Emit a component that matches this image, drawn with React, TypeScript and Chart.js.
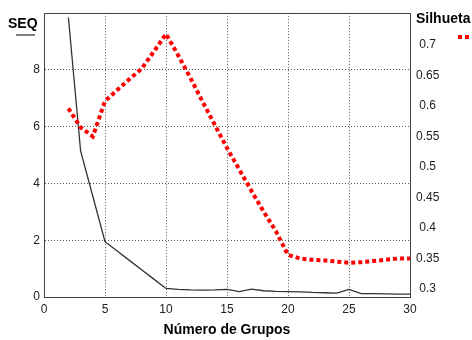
import React, { useEffect, useRef } from "react";
import { Chart, registerables } from "chart.js";

Chart.register(...registerables);

const groups = [2, 3, 4, 5, 6, 7, 8, 9, 10, 11, 12, 13, 14, 15, 16, 17, 18, 19, 20, 21, 22, 23, 24, 25, 26, 27, 28, 29, 30];
const seqValues = [9.85, 5.15, 3.55, 1.95, 1.62, 1.29, 0.96, 0.63, 0.3, 0.27, 0.25, 0.24, 0.25, 0.27, 0.19, 0.28, 0.22, 0.2, 0.19, 0.18, 0.16, 0.15, 0.14, 0.27, 0.12, 0.12, 0.11, 0.1, 0.1];
const silhouetteValues = [0.596, 0.565, 0.55, 0.608, 0.626, 0.644, 0.661, 0.689, 0.718, 0.683, 0.646, 0.607, 0.569, 0.531, 0.496, 0.461, 0.427, 0.395, 0.356, 0.35, 0.348, 0.347, 0.345, 0.343, 0.344, 0.346, 0.348, 0.35, 0.35];
const xTicks = [0, 5, 10, 15, 20, 25, 30];
const leftTicks = [0, 2, 4, 6, 8];
const rightTicks = [0.3, 0.35, 0.4, 0.45, 0.5, 0.55, 0.6, 0.65, 0.7];
const leftLabel = "SEQ";
const rightLabel = "Silhueta";
const xTitle = "Número de Grupos";

const FONT = "'Liberation Sans', Arial, sans-serif";

export default function App() {
  const ref = useRef<HTMLCanvasElement | null>(null);

  useEffect(() => {
    document.body.style.margin = "0";
    const canvas = ref.current;
    if (!canvas) return;

    const extras = {
      id: "extras",
      afterDraw(chart: any) {
        const { ctx, chartArea } = chart;
        const { left, right, top, bottom } = chartArea;
        ctx.save();
        // frame
        ctx.strokeStyle = "#444";
        ctx.lineWidth = 1;
        ctx.setLineDash([]);
        ctx.strokeRect(Math.round(left) + 0.5, Math.round(top) + 0.5, Math.round(right - left), Math.round(bottom - top));
        // left label + legend line
        ctx.fillStyle = "#000";
        ctx.font = `bold 14px ${FONT}`;
        ctx.textBaseline = "middle";
        ctx.textAlign = "left";
        ctx.fillText(leftLabel, 8, 24);
        ctx.strokeStyle = "#555";
        ctx.lineWidth = 1.5;
        ctx.beginPath();
        ctx.moveTo(16, 35);
        ctx.lineTo(35, 35);
        ctx.stroke();
        // right label + legend dots
        ctx.fillText(rightLabel, 416, 19);
        ctx.strokeStyle = "#ff0000";
        ctx.lineWidth = 4;
        ctx.setLineDash([4, 3]);
        ctx.beginPath();
        ctx.moveTo(458, 37);
        ctx.lineTo(470, 37);
        ctx.stroke();
        ctx.setLineDash([]);
        // x title
        ctx.textAlign = "center";
        ctx.font = `bold 14px ${FONT}`;
        ctx.fillText(xTitle, (left + right) / 2, 330);
        ctx.restore();
      },
    };

    const chart = new Chart(canvas, {
      type: "line",
      data: {
        datasets: [
          {
            label: rightLabel,
            data: groups.map((g, i) => ({ x: g, y: silhouetteValues[i] })),
            yAxisID: "y1",
            borderColor: "#ff0000",
            borderWidth: 4,
            borderDash: [4, 3],
            borderCapStyle: "butt",
            pointRadius: 0,
            tension: 0,
            fill: false,
          },
          {
            label: leftLabel,
            data: groups.map((g, i) => ({ x: g, y: seqValues[i] })),
            yAxisID: "y",
            borderColor: "#333",
            borderWidth: 1.3,
            pointRadius: 0,
            tension: 0,
            fill: false,
          },
        ],
      },
      options: {
        animation: false,
        responsive: false,
        maintainAspectRatio: false,
        layout: { padding: { top: 11, left: 0, right: 0, bottom: 0 } },
        plugins: { legend: { display: false }, tooltip: { enabled: false } },
        scales: {
          x: {
            type: "linear",
            min: 0,
            max: 30,
            afterBuildTicks: (s: any) => {
              s.ticks = xTicks.map((v) => ({ value: v }));
            },
            afterFit: (s: any) => {
              s.height = 43;
            },
            grid: { color: "#555", lineWidth: 1, drawTicks: false },
            border: { display: true, color: "#444", dash: [1, 2] },
            ticks: { color: "#222", font: { family: FONT, size: 12 }, padding: 5, maxRotation: 0 },
          },
          y: {
            type: "linear",
            position: "left",
            min: 0,
            max: 10,
            afterBuildTicks: (s: any) => {
              s.ticks = leftTicks.map((v) => ({ value: v }));
            },
            afterFit: (s: any) => {
              s.width = 44;
            },
            grid: { color: "#555", lineWidth: 1, drawTicks: false },
            border: { display: true, color: "#444", dash: [1, 2] },
            ticks: { color: "#222", font: { family: FONT, size: 12 }, padding: 4 },
          },
          y1: {
            type: "linear",
            position: "right",
            min: 0.287,
            max: 0.752,
            afterBuildTicks: (s: any) => {
              s.ticks = rightTicks.map((v) => ({ value: v }));
            },
            afterFit: (s: any) => {
              s.width = 62;
            },
            grid: { display: false, drawTicks: false },
            border: { display: true, color: "#444" },
            ticks: {
              color: "#222",
              font: { family: FONT, size: 12 },
              padding: 6,
              crossAlign: "center",
              callback: (v: any) => String(Math.round(Number(v) * 100) / 100),
            },
          },
        },
      },
      plugins: [extras],
    } as any);

    return () => chart.destroy();
  }, []);

  return (
    <div style={{ width: 472, height: 340, position: "relative" }}>
      <canvas ref={ref} width={472} height={340} style={{ display: "block", width: 472, height: 340 }} />
    </div>
  );
}
